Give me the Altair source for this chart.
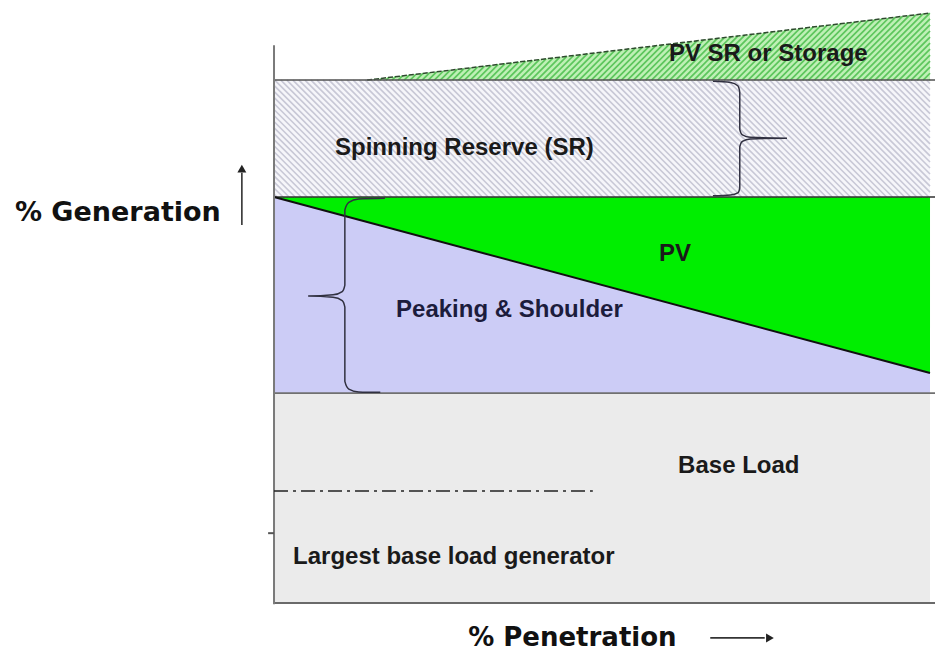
import altair as alt
import pandas as pd
import numpy as np

# ---- diagram values (x = % penetration, y = % generation; 100 = peak level) ----
pen = [0, 100]
base_top = 51.7
peak_top = 100.0
pv_boundary = [100.0, 56.65]       # peaking / PV split at 0 % and 100 % penetration
sr_top = 128.8
storage_x = [14.2, 100]
storage_top = [128.8, 145.3]
largest_gen = 27.6
largest_gen_end = 48.6
axis_top = 137.4
tick_y = 17.2
x_right = 100.76

labels = ["PV SR or Storage", "Spinning Reserve (SR)", "PV", "Base Load",
          "Largest base load generator"]
label_x = [60.2, 9.3, 58.7, 61.6, 2.9]
label_y = [135.2, 112.1, 86.0, 33.7, 11.3]
ps_label = ["Peaking & Shoulder"]
ps_x = [18.6]
ps_y = [72.2]

gen_title = ["% Generation"]
gen_title_x = [-39.5]
gen_title_y = [96.0]
pen_title = ["% Penetration"]
pen_title_x = [29.6]
pen_title_y = [-8.6]

# brace outlines
sr_brace_x = [66.9, 69.6, 70.7, 71.0, 71.0, 71.4, 72.6, 78.2, 72.6, 71.4, 71.0, 71.0, 70.7, 69.6, 66.9]
sr_brace_y = [128.5, 128.2, 127.4, 125.8, 116.6, 115.3, 114.7, 114.5, 114.3, 113.7, 112.4, 102.2, 101.0, 100.5, 100.3]
ps_brace_x = [16.9, 12.9, 11.4, 10.8, 10.8, 10.4, 9.0, 5.2, 9.0, 10.4, 10.8, 10.8, 11.4, 12.9, 16.2]
ps_brace_y = [99.7, 99.5, 98.7, 96.8, 78.3, 76.7, 75.9, 75.6, 75.3, 74.5, 72.9, 54.6, 52.7, 52.0, 51.9]

W, H = 927, 646
xs = alt.Scale(domain=[-40.55, x_right], nice=False, zero=False)
ys = alt.Scale(domain=[-12.56, 146.55], nice=False, zero=False)


def X(f="x"):
    return alt.X(f"{f}:Q", scale=xs, axis=None)


def Y(f="y"):
    return alt.Y(f"{f}:Q", scale=ys, axis=None)


# ---- hatch texture (45 deg on screen) ----
s = (W / (x_right + 40.55)) / (H / (146.55 + 12.56))   # data-slope giving 45 deg
step = 0.92
rows = []
for c in np.arange(peak_top + step * s * 0.5, sr_top + s * 100, step * s):
    xa = max(0.0, (c - sr_top) / s)
    xb = min(100.0, (c - peak_top) / s)
    if xb > xa:
        rows.append({"x": xa, "y": c - s * xa, "x2": xb, "y2": c - s * xb})
sr_hatch = pd.DataFrame(rows)

m = (storage_top[1] - storage_top[0]) / (storage_x[1] - storage_x[0])
rows = []
for c in np.arange(sr_top - s * 100 - s * 10, sr_top - s * storage_x[0], step * s):
    xa = (sr_top - c) / s
    xb = min(100.0, (sr_top - m * storage_x[0] - c) / (s - m))
    xa = max(xa, storage_x[0])
    if xa < 100 and xb > xa:
        rows.append({"x": xa, "y": c + s * xa, "x2": xb, "y2": c + s * xb})
st_hatch = pd.DataFrame(rows)

layers = []

# base load
layers.append(alt.Chart(pd.DataFrame({"x": [pen[0]], "x2": [pen[1]], "y": [0], "y2": [base_top]}))
              .mark_rect(color="#ebebeb").encode(x=X(), x2="x2", y=Y(), y2="y2"))
# peaking & shoulder
layers.append(alt.Chart(pd.DataFrame({"x": pen, "y": pv_boundary, "y2": [base_top] * 2}))
              .mark_area(color="#ccccf6", opacity=1).encode(x=X(), y=Y(), y2="y2"))
# PV
layers.append(alt.Chart(pd.DataFrame({"x": pen, "y": pv_boundary, "y2": [peak_top] * 2}))
              .mark_area(color="#00ee00", opacity=1).encode(x=X(), y=Y(), y2="y2"))
# spinning reserve
layers.append(alt.Chart(pd.DataFrame({"x": [pen[0]], "x2": [pen[1]], "y": [peak_top], "y2": [sr_top]}))
              .mark_rect(color="#f6f6fa").encode(x=X(), x2="x2", y=Y(), y2="y2"))
layers.append(alt.Chart(sr_hatch).mark_rule(color="#c8c8d6", strokeWidth=1.6)
              .encode(x=X(), y=Y(), x2="x2", y2="y2"))
# PV SR or storage
layers.append(alt.Chart(pd.DataFrame({"x": storage_x, "y": storage_top, "y2": [sr_top] * 2}))
              .mark_area(color="#bff0b6", opacity=1).encode(x=X(), y=Y(), y2="y2"))
layers.append(alt.Chart(st_hatch).mark_rule(color="#5cc65c", strokeWidth=1.7)
              .encode(x=X(), y=Y(), x2="x2", y2="y2"))
layers.append(alt.Chart(pd.DataFrame({"x": storage_x, "y": storage_top}))
              .mark_line(color="#2e4a2e", strokeWidth=1.5, strokeDash=[5, 2])
              .encode(x=X(), y=Y()))

# boundary lines
layers.append(alt.Chart(pd.DataFrame({"x": [0, 0, 0], "x2": [x_right] * 3, "y": [sr_top, peak_top, base_top],
                                      "c": ["#505050", "#303030", "#707070"]}))
              .mark_rule(strokeWidth=1.6).encode(x=X(), x2="x2", y=Y(), color=alt.Color("c:N", scale=None)))
layers.append(alt.Chart(pd.DataFrame({"x": pen, "y": pv_boundary}))
              .mark_line(color="#101010", strokeWidth=2).encode(x=X(), y=Y()))
# axes
layers.append(alt.Chart(pd.DataFrame({"x": [0], "x2": [x_right], "y": [0]}))
              .mark_rule(color="#6a6a6a", strokeWidth=2).encode(x=X(), x2="x2", y=Y()))
layers.append(alt.Chart(pd.DataFrame({"x": [0], "y": [-0.3], "y2": [axis_top]}))
              .mark_rule(color="#7a7a7a", strokeWidth=2).encode(x=X(), y=Y(), y2="y2"))
layers.append(alt.Chart(pd.DataFrame({"x": [-0.9], "x2": [0], "y": [tick_y]}))
              .mark_rule(color="#555555", strokeWidth=2).encode(x=X(), x2="x2", y=Y()))
# largest generator dash-dot
layers.append(alt.Chart(pd.DataFrame({"x": [0], "x2": [largest_gen_end], "y": [largest_gen]}))
              .mark_rule(color="#222222", strokeWidth=1.6, strokeDash=[14, 5, 3, 5])
              .encode(x=X(), x2="x2", y=Y()))
# braces
for bx, by in [(sr_brace_x, sr_brace_y), (ps_brace_x, ps_brace_y)]:
    layers.append(alt.Chart(pd.DataFrame({"x": bx, "y": by, "o": list(range(len(bx)))}))
                  .mark_line(color="#303040", strokeWidth=1.5, interpolate="monotone")
                  .encode(x=X(), y=Y(), order="o:Q"))

# labels
layers.append(alt.Chart(pd.DataFrame({"x": label_x, "y": label_y, "t": labels}))
              .mark_text(align="left", baseline="middle", font="Liberation Sans", fontWeight="bold",
                         fontSize=24, color="#1a1a1a")
              .encode(x=X(), y=Y(), text="t:N"))
layers.append(alt.Chart(pd.DataFrame({"x": ps_x, "y": ps_y, "t": ps_label}))
              .mark_text(align="left", baseline="middle", font="Liberation Sans", fontWeight="bold",
                         fontSize=24, color="#1c1c3c")
              .encode(x=X(), y=Y(), text="t:N"))
layers.append(alt.Chart(pd.DataFrame({"x": gen_title_x, "y": gen_title_y, "t": gen_title}))
              .mark_text(align="left", baseline="middle", font="DejaVu Sans", fontWeight="bold",
                         fontSize=27, color="#111111")
              .encode(x=X(), y=Y(), text="t:N"))
layers.append(alt.Chart(pd.DataFrame({"x": pen_title_x, "y": pen_title_y, "t": pen_title}))
              .mark_text(align="left", baseline="middle", font="DejaVu Sans", fontWeight="bold",
                         fontSize=26, color="#111111")
              .encode(x=X(), y=Y(), text="t:N"))
# arrows
layers.append(alt.Chart(pd.DataFrame({"x": [-4.9], "y": [93.1], "y2": [106.0]}))
              .mark_rule(color="#333333", strokeWidth=1.6).encode(x=X(), y=Y(), y2="y2"))
layers.append(alt.Chart(pd.DataFrame({"x": [-4.9], "y": [107.0]}))
              .mark_point(shape="triangle-up", filled=True, size=80, color="#222222", opacity=1)
              .encode(x=X(), y=Y()))
layers.append(alt.Chart(pd.DataFrame({"x": [66.5], "x2": [74.8], "y": pen_title_y}))
              .mark_rule(color="#333333", strokeWidth=1.6).encode(x=X(), x2="x2", y=Y()))
layers.append(alt.Chart(pd.DataFrame({"x": [75.6], "y": pen_title_y}))
              .mark_point(shape="triangle-right", filled=True, size=80, color="#222222", opacity=1)
              .encode(x=X(), y=Y()))

chart = alt.layer(*layers).properties(
    width=W, height=H, autosize=alt.AutoSizeParams(type="none"), padding=0,
    background="white"
).configure_view(stroke=None)

chart.save("out.html", embed_options={"renderer": "svg", "actions": False})
